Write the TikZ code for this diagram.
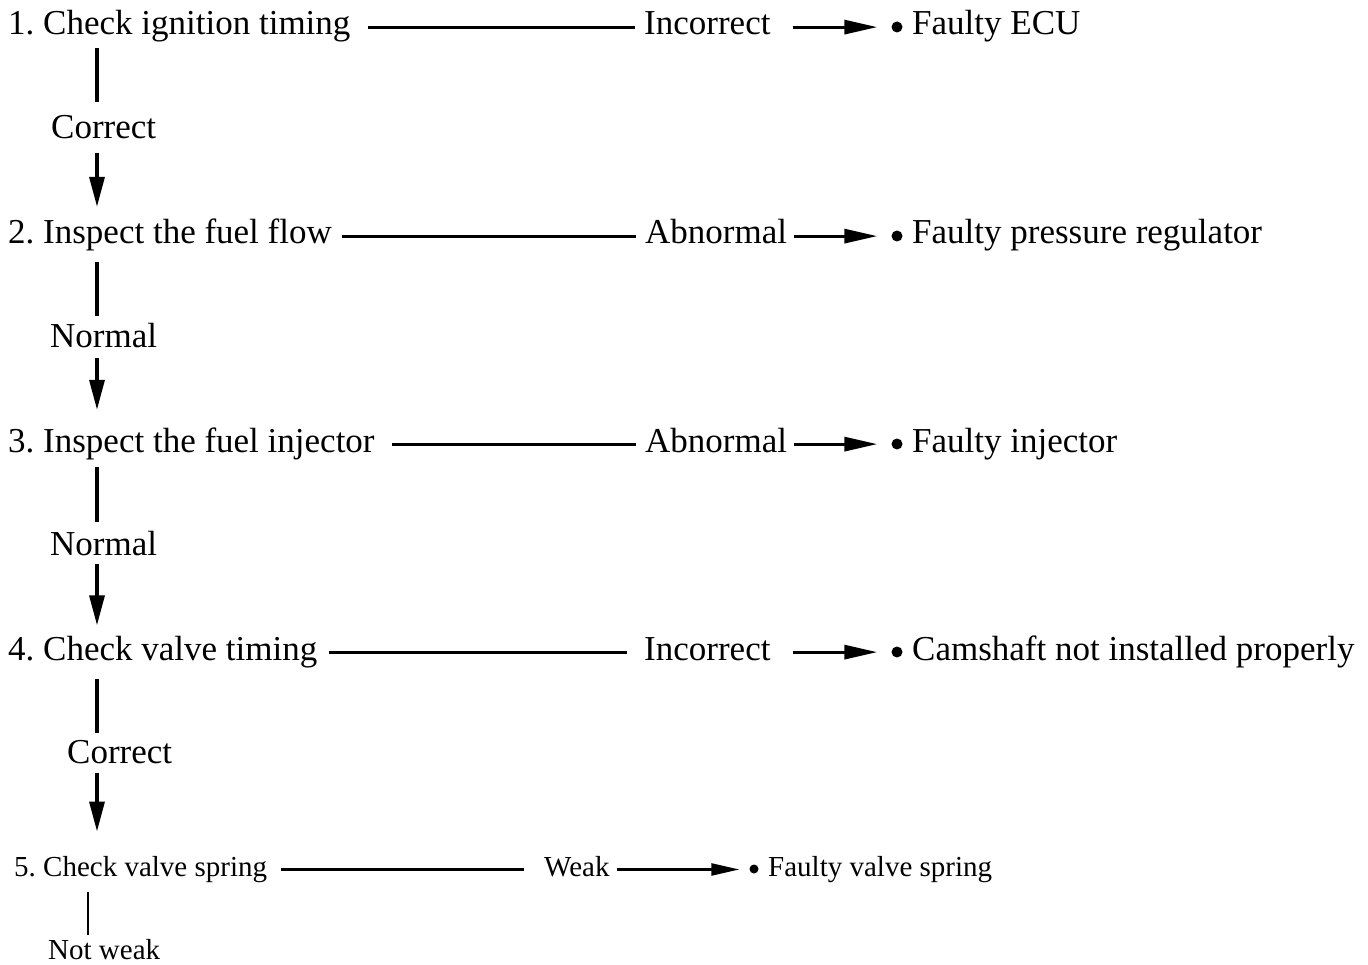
\documentclass[tikz,border=0pt]{standalone}
\usepackage{fontspec}
\setmainfont{Liberation Serif}
\usetikzlibrary{arrows.meta}
\frenchspacing
\begin{document}
\begin{tikzpicture}[x=1pt,y=-1pt,
  big/.style={font=\fontsize{35}{40}\selectfont, inner sep=0pt, text height=24.5pt, text depth=8.75pt, anchor=base west},
  sml/.style={font=\fontsize{29}{34}\selectfont, inner sep=0pt, text height=20.3pt, text depth=7.25pt, anchor=base west},
  hl/.style={line width=3.2pt},
  arr/.style={line width=3.2pt, -{Triangle[length=33pt,width=14pt]}},
  vl/.style={line width=3.4pt},
  varr/.style={line width=3.4pt, -{Triangle[length=30pt,width=15pt]}},
  hls/.style={line width=2.4pt},
  arrs/.style={line width=2.4pt, -{Triangle[length=28pt,width=12pt]}},
  vls/.style={line width=2.4pt},
  dot/.style={circle, fill=black, inner sep=0pt, minimum size=11pt},
  dots/.style={circle, fill=black, inner sep=0pt, minimum size=9pt}]
\useasboundingbox[fill=white] (0,0) rectangle (1368,965);
\coordinate (vx) at (97,0);
\coordinate (vx5) at (88,0);

% Row 1
\node[big] (s1) at (8,35) {1. Check ignition timing};
\node[big] (l1) at (644,35) {Incorrect};
\node[dot] (d1) at (897,27) {};
\node[big] (r1) at (912,35) {Faulty ECU};
\draw[hl, shorten <=17pt, shorten >=9pt] (s1.east) -- (l1.west);
\draw[arr, shorten <=22pt, shorten >=14pt] (l1.east) -- (l1.east -| d1.west);
\node[big] (c1) at (51,139) {Correct};
\draw[vl, shorten <=4pt, shorten >=12.5pt] (s1.south -| vx) -- (c1.north -| vx);

% Row 2
\node[big] (s2) at (8,244) {2. Inspect the fuel flow};
\draw[varr, shorten <=5pt, shorten >=12.5pt] (c1.south -| vx) -- (s2.north -| vx);
\node[big] (l2) at (645,244) {Abnormal};
\node[dot] (d2) at (897,236) {};
\node[big] (r2) at (912,244) {Faulty pressure regulator};
\draw[hl, shorten <=10pt, shorten >=9pt] (s2.east) -- (l2.west);
\draw[arr, shorten <=7pt, shorten >=14pt] (l2.east) -- (l2.east -| d2.west);
\node[big] (n2) at (50,348) {Normal};
\draw[vl, shorten <=9pt, shorten >=7.5pt] (s2.south -| vx) -- (n2.north -| vx);

% Row 3
\node[big] (s3) at (8,452) {3. Inspect the fuel injector};
\draw[varr, shorten <=1pt, shorten >=17.5pt] (n2.south -| vx) -- (s3.north -| vx);
\node[big] (l3) at (645,452) {Abnormal};
\node[dot] (d3) at (897,444) {};
\node[big] (r3) at (912,452) {Faulty injector};
\draw[hl, shorten <=17pt, shorten >=9pt] (s3.east) -- (l3.west);
\draw[arr, shorten <=7pt, shorten >=14pt] (l3.east) -- (l3.east -| d3.west);
\node[big] (n3) at (50,555) {Normal};
\draw[vl, shorten <=6pt, shorten >=8.5pt] (s3.south -| vx) -- (n3.north -| vx);

% Row 4
\node[big] (s4) at (8,660) {4. Check valve timing};
\draw[varr, shorten <=0pt, shorten >=10pt] (n3.south -| vx) -- (s4.north -| vx);
\node[big] (l4) at (644,660) {Incorrect};
\node[dot] (d4) at (897,652) {};
\node[big] (r4) at (912,660) {Camshaft not installed properly};
\draw[hl, shorten <=11pt, shorten >=17pt] (s4.east) -- (l4.west);
\draw[arr, shorten <=22pt, shorten >=14pt] (l4.east) -- (l4.east -| d4.west);
\node[big] (c4) at (67,763) {Correct};
\draw[vl, shorten <=10pt, shorten >=5pt] (s4.south -| vx) -- (c4.north -| vx);

% Row 5
\node[sml] (s5) at (14,876) {5. Check valve spring};
\draw[varr, shorten <=1pt, shorten >=24pt] (c4.south -| vx) -- (s5.north -| vx);
\node[sml] (l5) at (544,876) {Weak};
\node[dots] (d5) at (754,869) {};
\node[sml] (r5) at (768,876) {Faulty valve spring};
\draw[hls, shorten <=14pt, shorten >=20pt] (s5.east) -- (l5.west);
\draw[arrs, shorten <=7pt, shorten >=10pt] (l5.east) -- (l5.east -| d5.west);
\node[sml, text depth=4pt] (n5) at (48,959) {Not weak};
\draw[vls, shorten <=9pt, shorten >=4pt] (s5.south -| vx5) -- (n5.north -| vx5);
\end{tikzpicture}
\end{document}
